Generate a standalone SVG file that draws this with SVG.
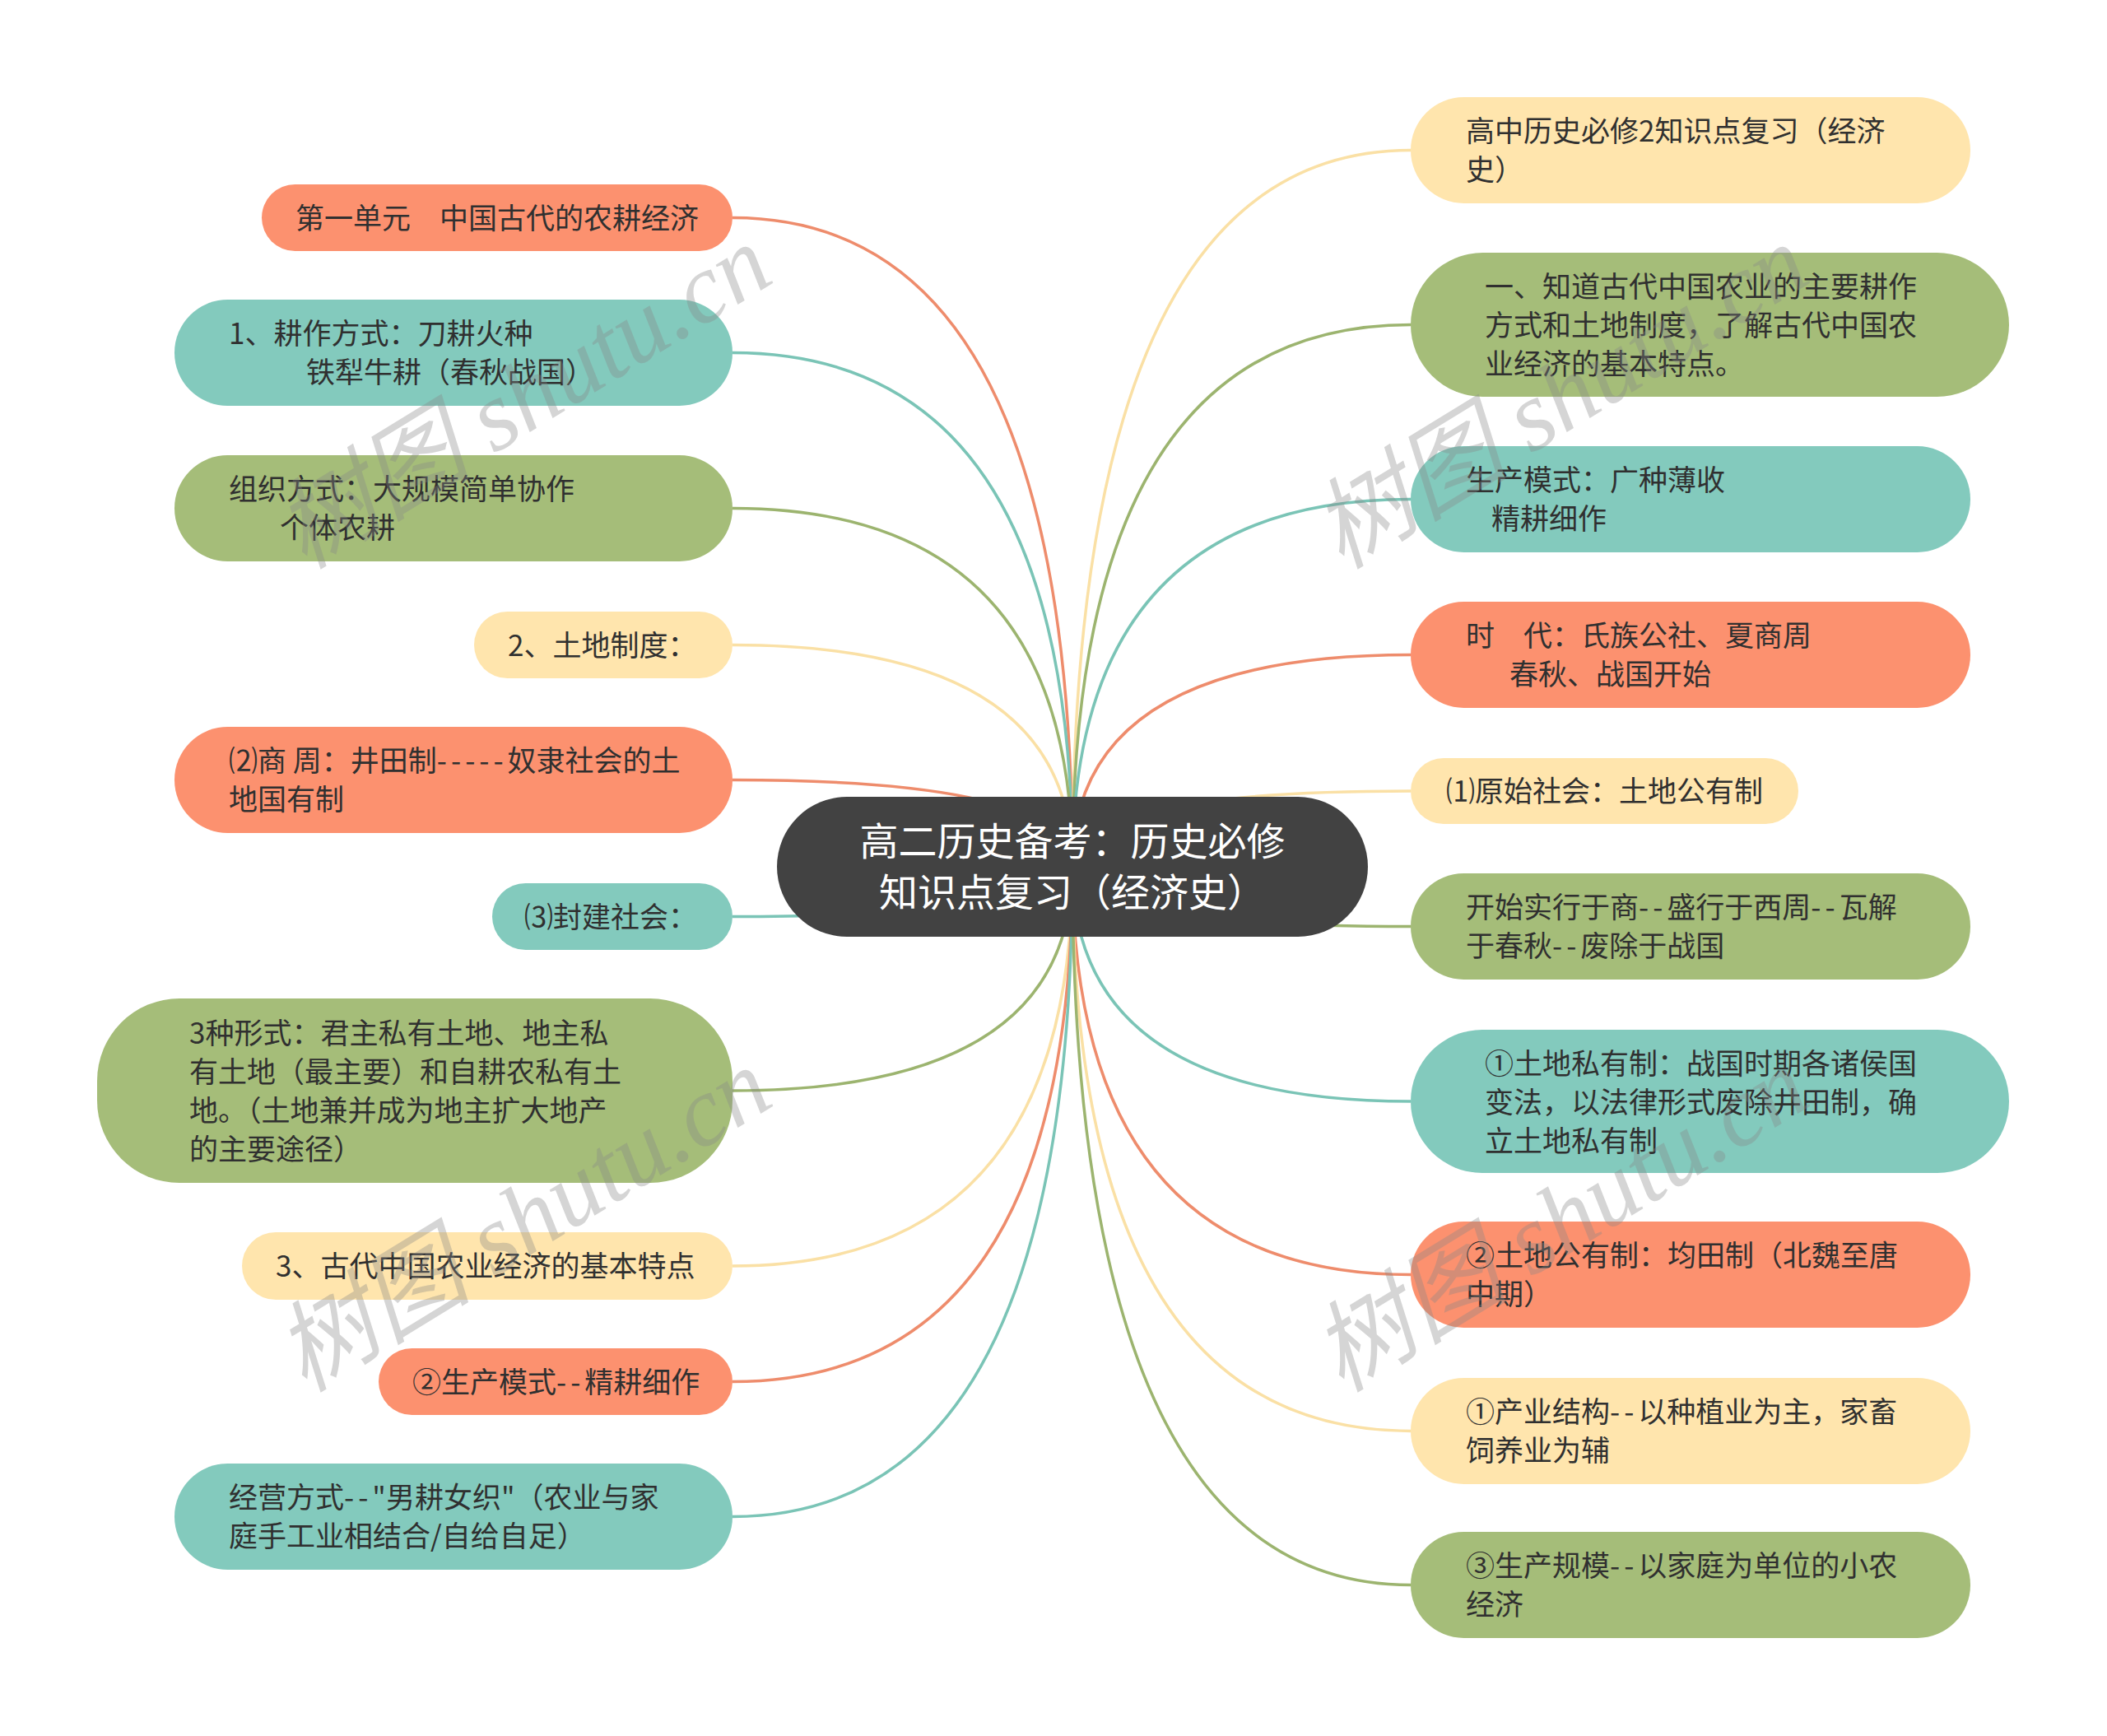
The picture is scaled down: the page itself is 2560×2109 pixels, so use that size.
<svg xmlns="http://www.w3.org/2000/svg" width="2560" height="2109" viewBox="0 0 2560 2109">
<style>
.t{font-family:"Noto Sans CJK SC","Noto Sans",sans-serif;font-size:35px;fill:#303030}
.d{letter-spacing:5px}
.c{font-family:"Noto Sans CJK SC","Noto Sans",sans-serif;font-size:47px;fill:#ffffff;text-anchor:middle}
.or{fill:#FC916F}.te{fill:#83CABD}.gr{fill:#A5BD79}.ye{fill:#FFE5AD}
.lk{fill:none;stroke-width:3.5}
.lor{stroke:#EE8C6C}.lte{stroke:#7AC4B6}.lgr{stroke:#9CB46F}.lye{stroke:#FAE0A5}
.wm{font-family:"Liberation Serif","Noto Sans CJK SC",serif;font-style:italic;font-size:120px;fill:#888888;opacity:0.35;text-anchor:end}
</style>
<rect width="2560" height="2109" fill="#ffffff"/>
<g id="connectors">
<path class="lk lor" d="M890,264.5 Q1303,264.5 1303,1053"/>
<path class="lk lte" d="M890,428.5 Q1303,428.5 1303,1053"/>
<path class="lk lgr" d="M890,617.5 Q1303,617.5 1303,1053"/>
<path class="lk lye" d="M890,783.5 Q1303,783.5 1303,1053"/>
<path class="lk lor" d="M890,947.5 Q1303,947.5 1303,1053"/>
<path class="lk lte" d="M890,1113.5 Q1303,1113.5 1303,1053"/>
<path class="lk lgr" d="M890,1325 Q1303,1325 1303,1053"/>
<path class="lk lye" d="M890,1538 Q1303,1538 1303,1053"/>
<path class="lk lor" d="M890,1678.5 Q1303,1678.5 1303,1053"/>
<path class="lk lte" d="M890,1842.5 Q1303,1842.5 1303,1053"/>
<path class="lk lye" d="M1714,182.5 Q1303,182.5 1303,1053"/>
<path class="lk lgr" d="M1714,394.5 Q1303,394.5 1303,1053"/>
<path class="lk lte" d="M1714,606.5 Q1303,606.5 1303,1053"/>
<path class="lk lor" d="M1714,795.5 Q1303,795.5 1303,1053"/>
<path class="lk lye" d="M1714,961 Q1303,961 1303,1053"/>
<path class="lk lgr" d="M1714,1125.5 Q1303,1125.5 1303,1053"/>
<path class="lk lte" d="M1714,1338 Q1303,1338 1303,1053"/>
<path class="lk lor" d="M1714,1548.5 Q1303,1548.5 1303,1053"/>
<path class="lk lye" d="M1714,1738.5 Q1303,1738.5 1303,1053"/>
<path class="lk lgr" d="M1714,1925.5 Q1303,1925.5 1303,1053"/>
</g>
<g id="center">
<rect x="944" y="968" width="718" height="170" rx="85" fill="#424242"/>
<text class="c"><tspan x="1303" y="1039">高二历史备考：历史必修</tspan><tspan x="1303" y="1101">知识点复习（经济史）</tspan></text>
</g>
<g id="L1"><rect class="or" x="318" y="224" width="572" height="81" rx="40.5"/>
<text class="t"><tspan x="359" y="277.5">第一单元　中国古代的农耕经济</tspan></text></g>
<g id="L2"><rect class="te" x="212" y="364" width="678" height="129" rx="64.5"/>
<text class="t"><tspan x="278" y="418">1、耕作方式：刀耕火种</tspan><tspan x="372" y="465">铁犁牛耕（春秋战国）</tspan></text></g>
<g id="L3"><rect class="gr" x="212" y="553" width="678" height="129" rx="64.5"/>
<text class="t"><tspan x="278" y="607">组织方式：大规模简单协作</tspan><tspan x="340" y="654">个体农耕</tspan></text></g>
<g id="L4"><rect class="ye" x="576" y="743" width="314" height="81" rx="40.5"/>
<text class="t"><tspan x="617" y="796.5">2、土地制度：</tspan></text></g>
<g id="L5"><rect class="or" x="212" y="883" width="678" height="129" rx="64.5"/>
<text class="t"><tspan x="278" y="937">⑵商 周：井田制<tspan class="d">-----</tspan>奴隶社会的土</tspan><tspan x="278" y="984">地国有制</tspan></text></g>
<g id="L6"><rect class="te" x="598" y="1073" width="292" height="81" rx="40.5"/>
<text class="t"><tspan x="637" y="1126.5">⑶封建社会：</tspan></text></g>
<g id="L7"><rect class="gr" x="118" y="1213" width="772" height="224" rx="100"/>
<text class="t"><tspan x="230" y="1267.5">3种形式：君主私有土地、地主私</tspan><tspan x="230" y="1314.5">有土地（最主要）和自耕农私有土</tspan><tspan x="230" y="1361.5">地。（土地兼并成为地主扩大地产</tspan><tspan x="230" y="1408.5">的主要途径）</tspan></text></g>
<g id="L8"><rect class="ye" x="294" y="1497" width="596" height="82" rx="41"/>
<text class="t"><tspan x="335" y="1551">3、古代中国农业经济的基本特点</tspan></text></g>
<g id="L9"><rect class="or" x="460" y="1638" width="430" height="81" rx="40.5"/>
<text class="t"><tspan x="501" y="1691.5">②生产模式<tspan class="d">--</tspan>精耕细作</tspan></text></g>
<g id="L10"><rect class="te" x="212" y="1778" width="678" height="129" rx="64.5"/>
<text class="t"><tspan x="278" y="1832">经营方式<tspan class="d">--</tspan>"男耕女织"（农业与家</tspan><tspan x="278" y="1879">庭手工业相结合/自给自足）</tspan></text></g>
<g id="R1"><rect class="ye" x="1714" y="118" width="680" height="129" rx="64.5"/>
<text class="t"><tspan x="1781" y="172">高中历史必修2知识点复习（经济</tspan><tspan x="1781" y="219">史）</tspan></text></g>
<g id="R2"><rect class="gr" x="1714" y="307" width="727" height="175" rx="87.5"/>
<text class="t"><tspan x="1804" y="360.5">一、知道古代中国农业的主要耕作</tspan><tspan x="1804" y="407.5">方式和土地制度，了解古代中国农</tspan><tspan x="1804" y="454.5">业经济的基本特点。</tspan></text></g>
<g id="R3"><rect class="te" x="1714" y="542" width="680" height="129" rx="64.5"/>
<text class="t"><tspan x="1781" y="596">生产模式：广种薄收</tspan><tspan x="1812" y="643">精耕细作</tspan></text></g>
<g id="R4"><rect class="or" x="1714" y="731" width="680" height="129" rx="64.5"/>
<text class="t"><tspan x="1781" y="785">时　代：氏族公社、夏商周</tspan><tspan x="1834" y="832">春秋、战国开始</tspan></text></g>
<g id="R5"><rect class="ye" x="1714" y="921" width="471" height="80" rx="40"/>
<text class="t"><tspan x="1757" y="974">⑴原始社会：土地公有制</tspan></text></g>
<g id="R6"><rect class="gr" x="1714" y="1061" width="680" height="129" rx="64.5"/>
<text class="t"><tspan x="1781" y="1115">开始实行于商<tspan class="d">--</tspan>盛行于西周<tspan class="d">--</tspan>瓦解</tspan><tspan x="1781" y="1162">于春秋<tspan class="d">--</tspan>废除于战国</tspan></text></g>
<g id="R7"><rect class="te" x="1714" y="1251" width="727" height="174" rx="87"/>
<text class="t"><tspan x="1804" y="1304.5">①土地私有制：战国时期各诸侯国</tspan><tspan x="1804" y="1351.5">变法，以法律形式废除井田制，确</tspan><tspan x="1804" y="1398.5">立土地私有制</tspan></text></g>
<g id="R8"><rect class="or" x="1714" y="1484" width="680" height="129" rx="64.5"/>
<text class="t"><tspan x="1781" y="1538">②土地公有制：均田制（北魏至唐</tspan><tspan x="1781" y="1585">中期）</tspan></text></g>
<g id="R9"><rect class="ye" x="1714" y="1674" width="680" height="129" rx="64.5"/>
<text class="t"><tspan x="1781" y="1728">①产业结构<tspan class="d">--</tspan>以种植业为主，家畜</tspan><tspan x="1781" y="1775">饲养业为辅</tspan></text></g>
<g id="R10"><rect class="gr" x="1714" y="1861" width="680" height="129" rx="64.5"/>
<text class="t"><tspan x="1781" y="1915">③生产规模<tspan class="d">--</tspan>以家庭为单位的小农</tspan><tspan x="1781" y="1962">经济</tspan></text></g>
<g id="watermarks">
<text class="wm" x="944" y="341" transform="rotate(-31.5 944 341)">树图 shutu.cn</text>
<text class="wm" x="2204" y="341" transform="rotate(-31.5 2204 341)">树图 shutu.cn</text>
<text class="wm" x="944" y="1341" transform="rotate(-31.5 944 1341)">树图 shutu.cn</text>
<text class="wm" x="2204" y="1341" transform="rotate(-31.5 2204 1341)">树图 shutu.cn</text>
</g>
</svg>
